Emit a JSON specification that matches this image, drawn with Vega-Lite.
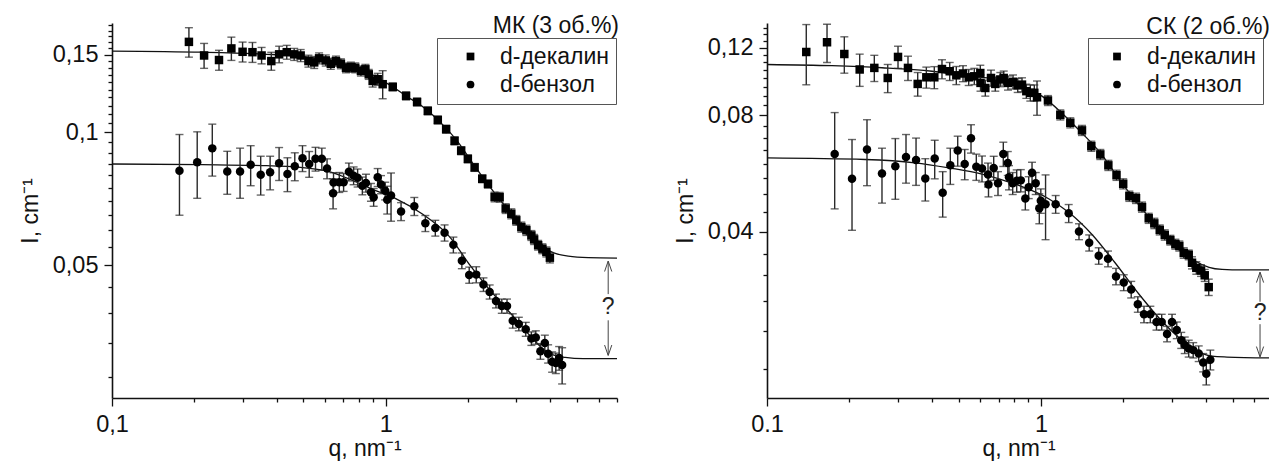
{
  "$schema": "https://vega.github.io/schema/vega-lite/v6.json",
  "padding": {"left": 19, "top": 13, "right": 0, "bottom": 0},
  "bounds": "flush",
  "spacing": 150,
  "config": {
    "view": {"stroke": null},
    "font": "Liberation Sans",
    "axis": {"domainColor": "#111", "domainWidth": 1.6, "tickColor": "#111", "tickWidth": 1.3, "labelColor": "#111", "titleColor": "#111", "labelFont": "Liberation Sans", "titleFont": "Liberation Sans", "labelFontSize": 23.5, "titleFontSize": 23, "titleFontWeight": "normal", "grid": false, "labelOverlap": false, "labelFlush": false, "labelBound": false}
  },
  "resolve": {"scale": {"shape": "independent"}, "legend": {"shape": "independent"}},
  "datasets": {
    "L_pts": [
      {"series": "d-декалин", "q": 0.191, "I": 0.1604, "err": 0.0123},
      {"series": "d-декалин", "q": 0.217, "I": 0.1494, "err": 0.0097},
      {"series": "d-декалин", "q": 0.246, "I": 0.1459, "err": 0.0076},
      {"series": "d-декалин", "q": 0.273, "I": 0.155, "err": 0.0094},
      {"series": "d-декалин", "q": 0.3, "I": 0.1523, "err": 0.0079},
      {"series": "d-декалин", "q": 0.326, "I": 0.152, "err": 0.0079},
      {"series": "d-декалин", "q": 0.352, "I": 0.1494, "err": 0.0064},
      {"series": "d-декалин", "q": 0.382, "I": 0.1451, "err": 0.0068},
      {"series": "d-декалин", "q": 0.408, "I": 0.1503, "err": 0.0065},
      {"series": "d-декалин", "q": 0.435, "I": 0.152, "err": 0.0055},
      {"series": "d-декалин", "q": 0.463, "I": 0.1503, "err": 0.0047},
      {"series": "d-декалин", "q": 0.489, "I": 0.1494, "err": 0.0047},
      {"series": "d-декалин", "q": 0.522, "I": 0.1451, "err": 0.0045},
      {"series": "d-декалин", "q": 0.548, "I": 0.1441, "err": 0.0045},
      {"series": "d-декалин", "q": 0.571, "I": 0.1472, "err": 0.0042},
      {"series": "d-декалин", "q": 0.604, "I": 0.1456, "err": 0.0042},
      {"series": "d-декалин", "q": 0.63, "I": 0.1431, "err": 0.0041},
      {"series": "d-декалин", "q": 0.658, "I": 0.1451, "err": 0.0038},
      {"series": "d-декалин", "q": 0.686, "I": 0.1431, "err": 0.0037},
      {"series": "d-декалин", "q": 0.716, "I": 0.1401, "err": 0.0036},
      {"series": "d-декалин", "q": 0.746, "I": 0.1406, "err": 0.0037},
      {"series": "d-декалин", "q": 0.774, "I": 0.1401, "err": 0.0036},
      {"series": "d-декалин", "q": 0.812, "I": 0.1378, "err": 0.0036},
      {"series": "d-декалин", "q": 0.843, "I": 0.139, "err": 0.0036},
      {"series": "d-декалин", "q": 0.867, "I": 0.1354, "err": 0.0035},
      {"series": "d-декалин", "q": 0.896, "I": 0.1308, "err": 0.0041},
      {"series": "d-декалин", "q": 0.935, "I": 0.132, "err": 0.0041},
      {"series": "d-декалин", "q": 0.975, "I": 0.1286, "err": 0.0094},
      {"series": "d-декалин", "q": 1.061, "I": 0.1268, "err": 0.0026},
      {"series": "d-декалин", "q": 1.187, "I": 0.121, "err": 0.0025},
      {"series": "d-декалин", "q": 1.302, "I": 0.1172, "err": 0.0024},
      {"series": "d-декалин", "q": 1.425, "I": 0.1119, "err": 0.0023},
      {"series": "d-декалин", "q": 1.55, "I": 0.1067, "err": 0.0022},
      {"series": "d-декалин", "q": 1.663, "I": 0.1017, "err": 0.0021},
      {"series": "d-декалин", "q": 1.785, "I": 0.0957, "err": 0.002},
      {"series": "d-декалин", "q": 1.887, "I": 0.0909, "err": 0.0019},
      {"series": "d-декалин", "q": 1.996, "I": 0.0871, "err": 0.0018},
      {"series": "d-декалин", "q": 2.113, "I": 0.0833, "err": 0.0017},
      {"series": "d-декалин", "q": 2.253, "I": 0.0785, "err": 0.0016},
      {"series": "d-декалин", "q": 2.364, "I": 0.0764, "err": 0.0016},
      {"series": "d-декалин", "q": 2.5, "I": 0.0714, "err": 0.0018},
      {"series": "d-декалин", "q": 2.608, "I": 0.0713, "err": 0.0018},
      {"series": "d-декалин", "q": 2.744, "I": 0.0672, "err": 0.0017},
      {"series": "d-декалин", "q": 2.877, "I": 0.0654, "err": 0.0017},
      {"series": "d-декалин", "q": 3.0, "I": 0.0632, "err": 0.0016},
      {"series": "d-декалин", "q": 3.13, "I": 0.061, "err": 0.0016},
      {"series": "d-декалин", "q": 3.266, "I": 0.06, "err": 0.0016},
      {"series": "d-декалин", "q": 3.406, "I": 0.0584, "err": 0.0015},
      {"series": "d-декалин", "q": 3.486, "I": 0.0572, "err": 0.0015},
      {"series": "d-декалин", "q": 3.606, "I": 0.0555, "err": 0.0014},
      {"series": "d-декалин", "q": 3.737, "I": 0.0545, "err": 0.0014},
      {"series": "d-декалин", "q": 3.864, "I": 0.0536, "err": 0.0014},
      {"series": "d-декалин", "q": 3.98, "I": 0.052, "err": 0.0014},
      {"series": "d-бензол", "q": 0.1764, "I": 0.0819, "err": 0.017},
      {"series": "d-бензол", "q": 0.2048, "I": 0.0856, "err": 0.0147},
      {"series": "d-бензол", "q": 0.2325, "I": 0.092, "err": 0.0124},
      {"series": "d-бензол", "q": 0.2637, "I": 0.0815, "err": 0.0091},
      {"series": "d-бензол", "q": 0.2937, "I": 0.0815, "err": 0.0106},
      {"series": "d-бензол", "q": 0.3211, "I": 0.0845, "err": 0.0088},
      {"series": "d-бензол", "q": 0.3494, "I": 0.0802, "err": 0.0081},
      {"series": "d-бензол", "q": 0.3782, "I": 0.0812, "err": 0.0071},
      {"series": "d-бензол", "q": 0.4079, "I": 0.0851, "err": 0.0073},
      {"series": "d-бензол", "q": 0.4375, "I": 0.0805, "err": 0.0071},
      {"series": "d-бензол", "q": 0.4654, "I": 0.0838, "err": 0.0061},
      {"series": "d-бензол", "q": 0.4966, "I": 0.0874, "err": 0.0059},
      {"series": "d-бензол", "q": 0.5254, "I": 0.0848, "err": 0.0057},
      {"series": "d-бензол", "q": 0.5541, "I": 0.0871, "err": 0.0054},
      {"series": "d-бензол", "q": 0.5843, "I": 0.0871, "err": 0.005},
      {"series": "d-бензол", "q": 0.6105, "I": 0.0828, "err": 0.0043},
      {"series": "d-бензол", "q": 0.6448, "I": 0.077, "err": 0.004},
      {"series": "d-бензол", "q": 0.6423, "I": 0.0728, "err": 0.0057},
      {"series": "d-бензол", "q": 0.6767, "I": 0.0771, "err": 0.004},
      {"series": "d-бензол", "q": 0.7018, "I": 0.0771, "err": 0.0036},
      {"series": "d-бензол", "q": 0.7338, "I": 0.0814, "err": 0.0038},
      {"series": "d-бензол", "q": 0.7634, "I": 0.0798, "err": 0.0037},
      {"series": "d-бензол", "q": 0.7896, "I": 0.0789, "err": 0.0037},
      {"series": "d-бензол", "q": 0.8216, "I": 0.0757, "err": 0.0035},
      {"series": "d-бензол", "q": 0.847, "I": 0.0768, "err": 0.0036},
      {"series": "d-бензол", "q": 0.8835, "I": 0.0732, "err": 0.0034},
      {"series": "d-бензол", "q": 0.9036, "I": 0.0713, "err": 0.0033},
      {"series": "d-бензол", "q": 0.9348, "I": 0.0791, "err": 0.0037},
      {"series": "d-бензол", "q": 0.9612, "I": 0.0762, "err": 0.0036},
      {"series": "d-бензол", "q": 0.9958, "I": 0.0737, "err": 0.0034},
      {"series": "d-бензол", "q": 1.013, "I": 0.0704, "err": 0.0051},
      {"series": "d-бензол", "q": 1.046, "I": 0.0719, "err": 0.009},
      {"series": "d-бензол", "q": 1.138, "I": 0.0662, "err": 0.0031},
      {"series": "d-бензол", "q": 1.272, "I": 0.068, "err": 0.0032},
      {"series": "d-бензол", "q": 1.396, "I": 0.0622, "err": 0.0026},
      {"series": "d-бензол", "q": 1.518, "I": 0.0607, "err": 0.0025},
      {"series": "d-бензол", "q": 1.641, "I": 0.0592, "err": 0.0025},
      {"series": "d-бензол", "q": 1.767, "I": 0.0556, "err": 0.0023},
      {"series": "d-бензол", "q": 1.898, "I": 0.0512, "err": 0.0021},
      {"series": "d-бензол", "q": 2.019, "I": 0.0475, "err": 0.002},
      {"series": "d-бензол", "q": 2.142, "I": 0.0476, "err": 0.002},
      {"series": "d-бензол", "q": 2.276, "I": 0.0452, "err": 0.0016},
      {"series": "d-бензол", "q": 2.398, "I": 0.0435, "err": 0.0016},
      {"series": "d-бензол", "q": 2.529, "I": 0.0415, "err": 0.0015},
      {"series": "d-бензол", "q": 2.656, "I": 0.0404, "err": 0.0015},
      {"series": "d-бензол", "q": 2.775, "I": 0.0404, "err": 0.0015},
      {"series": "d-бензол", "q": 2.912, "I": 0.0374, "err": 0.0014},
      {"series": "d-бензол", "q": 3.065, "I": 0.0368, "err": 0.0013},
      {"series": "d-бензол", "q": 3.249, "I": 0.0358, "err": 0.0013},
      {"series": "d-бензол", "q": 3.406, "I": 0.0341, "err": 0.0012},
      {"series": "d-бензол", "q": 3.535, "I": 0.0343, "err": 0.0012},
      {"series": "d-бензол", "q": 3.675, "I": 0.0319, "err": 0.0013},
      {"series": "d-бензол", "q": 3.814, "I": 0.0333, "err": 0.0014},
      {"series": "d-бензол", "q": 3.921, "I": 0.0315, "err": 0.0015},
      {"series": "d-бензол", "q": 4.056, "I": 0.0302, "err": 0.0016},
      {"series": "d-бензол", "q": 4.184, "I": 0.03, "err": 0.0016},
      {"series": "d-бензол", "q": 4.302, "I": 0.0308, "err": 0.0019},
      {"series": "d-бензол", "q": 4.412, "I": 0.0297, "err": 0.0028}
    ],
    "L_fit": [
      {"c": "u", "q": 0.1, "I": 0.1529}, {"c": "u", "q": 0.2136, "I": 0.152}, {"c": "u", "q": 0.3544, "I": 0.1505},
      {"c": "u", "q": 0.4966, "I": 0.1486}, {"c": "u", "q": 0.6395, "I": 0.1451}, {"c": "u", "q": 0.7896, "I": 0.1399},
      {"c": "u", "q": 0.9348, "I": 0.1329}, {"c": "u", "q": 1.061, "I": 0.1268}, {"c": "u", "q": 1.204, "I": 0.1203},
      {"c": "u", "q": 1.366, "I": 0.1143}, {"c": "u", "q": 1.618, "I": 0.104}, {"c": "u", "q": 1.835, "I": 0.0952},
      {"c": "u", "q": 2.083, "I": 0.085}, {"c": "u", "q": 2.364, "I": 0.0762}, {"c": "u", "q": 2.683, "I": 0.069},
      {"c": "u", "q": 3.045, "I": 0.0629}, {"c": "u", "q": 3.456, "I": 0.0575}, {"c": "u", "q": 3.759, "I": 0.0549},
      {"c": "u", "q": 4.09, "I": 0.0534}, {"c": "u", "q": 4.642, "I": 0.0524}, {"c": "u", "q": 5.495, "I": 0.052},
      {"c": "u", "q": 7, "I": 0.0519},
      {"c": "l", "q": 0.1, "I": 0.0848}, {"c": "l", "q": 0.2136, "I": 0.0845}, {"c": "l", "q": 0.3544, "I": 0.0841},
      {"c": "l", "q": 0.4966, "I": 0.0832}, {"c": "l", "q": 0.6395, "I": 0.0811}, {"c": "l", "q": 0.757, "I": 0.0778},
      {"c": "l", "q": 0.9192, "I": 0.0738}, {"c": "l", "q": 1.088, "I": 0.0708}, {"c": "l", "q": 1.366, "I": 0.0652},
      {"c": "l", "q": 1.716, "I": 0.0579}, {"c": "l", "q": 2.031, "I": 0.05}, {"c": "l", "q": 2.404, "I": 0.0439},
      {"c": "l", "q": 2.847, "I": 0.039}, {"c": "l", "q": 3.369, "I": 0.0346}, {"c": "l", "q": 3.759, "I": 0.0323},
      {"c": "l", "q": 4.09, "I": 0.0313}, {"c": "l", "q": 4.526, "I": 0.0309}, {"c": "l", "q": 5.268, "I": 0.0307},
      {"c": "l", "q": 7, "I": 0.0307}
    ],
    "L_ann": [
      {"k": "seg", "q": 6.5, "I": 0.051, "I2": 0.043},
      {"k": "seg", "q": 6.5, "I": 0.0375, "I2": 0.0313},
      {"k": "up", "q": 6.5, "I": 0.0511},
      {"k": "dn", "q": 6.5, "I": 0.0312},
      {"k": "txt", "q": 6.5, "I": 0.0402, "label": "?"},
      {"k": "head", "q": 7, "I": 0.1681, "label": "МК (3 об.%)"}
    ],
    "R_pts": [
      {"series": "d-декалин", "q": 0.1391, "I": 0.1169, "err": 0.0208},
      {"series": "d-декалин", "q": 0.1656, "I": 0.1239, "err": 0.0141},
      {"series": "d-декалин", "q": 0.1915, "I": 0.1155, "err": 0.0125},
      {"series": "d-декалин", "q": 0.2179, "I": 0.1053, "err": 0.0101},
      {"series": "d-декалин", "q": 0.2464, "I": 0.1063, "err": 0.0083},
      {"series": "d-декалин", "q": 0.2758, "I": 0.1001, "err": 0.0084},
      {"series": "d-декалин", "q": 0.3007, "I": 0.1135, "err": 0.0075},
      {"series": "d-декалин", "q": 0.327, "I": 0.1063, "err": 0.0077},
      {"series": "d-декалин", "q": 0.3548, "I": 0.0966, "err": 0.0068},
      {"series": "d-декалин", "q": 0.3815, "I": 0.1005, "err": 0.0063},
      {"series": "d-декалин", "q": 0.4079, "I": 0.1005, "err": 0.0066},
      {"series": "d-декалин", "q": 0.4351, "I": 0.1056, "err": 0.006},
      {"series": "d-декалин", "q": 0.4643, "I": 0.1042, "err": 0.0056},
      {"series": "d-декалин", "q": 0.4908, "I": 0.1017, "err": 0.0055},
      {"series": "d-декалин", "q": 0.5192, "I": 0.1028, "err": 0.0049},
      {"series": "d-декалин", "q": 0.5447, "I": 0.1005, "err": 0.0048},
      {"series": "d-декалин", "q": 0.5709, "I": 0.1011, "err": 0.0049},
      {"series": "d-декалин", "q": 0.6004, "I": 0.1031, "err": 0.0049},
      {"series": "d-декалин", "q": 0.6015, "I": 0.0972, "err": 0.0047},
      {"series": "d-декалин", "q": 0.6262, "I": 0.0943, "err": 0.0045},
      {"series": "d-декалин", "q": 0.6569, "I": 0.1001, "err": 0.0048},
      {"series": "d-декалин", "q": 0.681, "I": 0.0966, "err": 0.0041},
      {"series": "d-декалин", "q": 0.7103, "I": 0.0992, "err": 0.0042},
      {"series": "d-декалин", "q": 0.7309, "I": 0.1001, "err": 0.0042},
      {"series": "d-декалин", "q": 0.7578, "I": 0.0972, "err": 0.0041},
      {"series": "d-декалин", "q": 0.7903, "I": 0.0978, "err": 0.0041},
      {"series": "d-декалин", "q": 0.8222, "I": 0.0958, "err": 0.004},
      {"series": "d-декалин", "q": 0.8524, "I": 0.0962, "err": 0.004},
      {"series": "d-декалин", "q": 0.8839, "I": 0.0925, "err": 0.0039},
      {"series": "d-декалин", "q": 0.9141, "I": 0.0916, "err": 0.0044},
      {"series": "d-декалин", "q": 0.9452, "I": 0.0916, "err": 0.0044},
      {"series": "d-декалин", "q": 0.967, "I": 0.0892, "err": 0.0091},
      {"series": "d-декалин", "q": 1.06, "I": 0.0875, "err": 0.0026},
      {"series": "d-декалин", "q": 1.176, "I": 0.0803, "err": 0.0024},
      {"series": "d-декалин", "q": 1.279, "I": 0.0766, "err": 0.0023},
      {"series": "d-декалин", "q": 1.411, "I": 0.0732, "err": 0.0022},
      {"series": "d-декалин", "q": 1.526, "I": 0.0666, "err": 0.002},
      {"series": "d-декалин", "q": 1.646, "I": 0.0634, "err": 0.0019},
      {"series": "d-декалин", "q": 1.761, "I": 0.0594, "err": 0.0018},
      {"series": "d-декалин", "q": 1.886, "I": 0.056, "err": 0.0017},
      {"series": "d-декалин", "q": 1.995, "I": 0.0532, "err": 0.0016},
      {"series": "d-декалин", "q": 2.101, "I": 0.0494, "err": 0.0015},
      {"series": "d-декалин", "q": 2.222, "I": 0.0488, "err": 0.0015},
      {"series": "d-декалин", "q": 2.337, "I": 0.0463, "err": 0.0014},
      {"series": "d-декалин", "q": 2.472, "I": 0.0433, "err": 0.0013},
      {"series": "d-декалин", "q": 2.591, "I": 0.042, "err": 0.0013},
      {"series": "d-декалин", "q": 2.712, "I": 0.0404, "err": 0.0012},
      {"series": "d-декалин", "q": 2.829, "I": 0.0392, "err": 0.0012},
      {"series": "d-декалин", "q": 2.965, "I": 0.038, "err": 0.0011},
      {"series": "d-декалин", "q": 3.092, "I": 0.0371, "err": 0.0011},
      {"series": "d-декалин", "q": 3.197, "I": 0.0367, "err": 0.0011},
      {"series": "d-декалин", "q": 3.318, "I": 0.0352, "err": 0.0011},
      {"series": "d-декалин", "q": 3.46, "I": 0.0348, "err": 0.001},
      {"series": "d-декалин", "q": 3.557, "I": 0.0332, "err": 0.0012},
      {"series": "d-декалин", "q": 3.688, "I": 0.0322, "err": 0.0012},
      {"series": "d-декалин", "q": 3.837, "I": 0.0317, "err": 0.0011},
      {"series": "d-декалин", "q": 3.958, "I": 0.0308, "err": 0.0011},
      {"series": "d-декалин", "q": 4.093, "I": 0.0287, "err": 0.0014},
      {"series": "d-бензол", "q": 0.1766, "I": 0.0636, "err": 0.0178},
      {"series": "d-бензол", "q": 0.2043, "I": 0.0548, "err": 0.0145},
      {"series": "d-бензол", "q": 0.2317, "I": 0.0653, "err": 0.0127},
      {"series": "d-бензол", "q": 0.2628, "I": 0.0566, "err": 0.0092},
      {"series": "d-бензол", "q": 0.294, "I": 0.0591, "err": 0.0106},
      {"series": "d-бензол", "q": 0.3216, "I": 0.0624, "err": 0.009},
      {"series": "d-бензол", "q": 0.3499, "I": 0.0613, "err": 0.0086},
      {"series": "d-бензол", "q": 0.3782, "I": 0.0549, "err": 0.0069},
      {"series": "d-бензол", "q": 0.4093, "I": 0.0619, "err": 0.0071},
      {"series": "d-бензол", "q": 0.4377, "I": 0.0504, "err": 0.0068},
      {"series": "d-бензол", "q": 0.4667, "I": 0.0594, "err": 0.0064},
      {"series": "d-бензол", "q": 0.4966, "I": 0.0649, "err": 0.0058},
      {"series": "d-бензол", "q": 0.5267, "I": 0.0599, "err": 0.0054},
      {"series": "d-бензол", "q": 0.5553, "I": 0.0698, "err": 0.0059},
      {"series": "d-бензол", "q": 0.5806, "I": 0.0589, "err": 0.0046},
      {"series": "d-бензол", "q": 0.6091, "I": 0.0583, "err": 0.0045},
      {"series": "d-бензол", "q": 0.6406, "I": 0.0562, "err": 0.004},
      {"series": "d-бензол", "q": 0.6432, "I": 0.053, "err": 0.0038},
      {"series": "d-бензол", "q": 0.672, "I": 0.0585, "err": 0.0042},
      {"series": "d-бензол", "q": 0.6967, "I": 0.0534, "err": 0.0038},
      {"series": "d-бензол", "q": 0.7284, "I": 0.0636, "err": 0.0046},
      {"series": "d-бензол", "q": 0.7564, "I": 0.0602, "err": 0.0043},
      {"series": "d-бензол", "q": 0.7641, "I": 0.0553, "err": 0.004},
      {"series": "d-бензол", "q": 0.7882, "I": 0.0534, "err": 0.0035},
      {"series": "d-бензол", "q": 0.8152, "I": 0.0542, "err": 0.0036},
      {"series": "d-бензол", "q": 0.8438, "I": 0.0543, "err": 0.0036},
      {"series": "d-бензол", "q": 0.8765, "I": 0.0487, "err": 0.0032},
      {"series": "d-бензол", "q": 0.9018, "I": 0.0521, "err": 0.0034},
      {"series": "d-бензол", "q": 0.9273, "I": 0.0568, "err": 0.0037},
      {"series": "d-бензол", "q": 0.9565, "I": 0.0534, "err": 0.0035},
      {"series": "d-бензол", "q": 0.9858, "I": 0.046, "err": 0.0041},
      {"series": "d-бензол", "q": 0.9984, "I": 0.0481, "err": 0.0035},
      {"series": "d-бензол", "q": 1.039, "I": 0.0471, "err": 0.009},
      {"series": "d-бензол", "q": 1.131, "I": 0.0471, "err": 0.0025},
      {"series": "d-бензол", "q": 1.262, "I": 0.0446, "err": 0.0024},
      {"series": "d-бензол", "q": 1.376, "I": 0.04, "err": 0.0019},
      {"series": "d-бензол", "q": 1.499, "I": 0.0374, "err": 0.0018},
      {"series": "d-бензол", "q": 1.624, "I": 0.0346, "err": 0.0017},
      {"series": "d-бензол", "q": 1.756, "I": 0.034, "err": 0.0016},
      {"series": "d-бензол", "q": 1.878, "I": 0.0306, "err": 0.0015},
      {"series": "d-бензол", "q": 2.004, "I": 0.0295, "err": 0.0014},
      {"series": "d-бензол", "q": 2.134, "I": 0.0283, "err": 0.0014},
      {"series": "d-бензол", "q": 2.256, "I": 0.0259, "err": 0.0012},
      {"series": "d-бензол", "q": 2.376, "I": 0.0244, "err": 0.0012},
      {"series": "d-бензол", "q": 2.506, "I": 0.0244, "err": 0.0012},
      {"series": "d-бензол", "q": 2.639, "I": 0.0233, "err": 0.0011},
      {"series": "d-бензол", "q": 2.757, "I": 0.0233, "err": 0.0011},
      {"series": "d-бензол", "q": 2.884, "I": 0.0217, "err": 0.001},
      {"series": "d-бензол", "q": 3.007, "I": 0.0233, "err": 0.0011},
      {"series": "d-бензол", "q": 3.129, "I": 0.0222, "err": 0.0011},
      {"series": "d-бензол", "q": 3.249, "I": 0.0209, "err": 0.001},
      {"series": "d-бензол", "q": 3.346, "I": 0.0203, "err": 0.001},
      {"series": "d-бензол", "q": 3.46, "I": 0.0199, "err": 0.001},
      {"series": "d-бензол", "q": 3.593, "I": 0.0197, "err": 0.0009},
      {"series": "d-бензол", "q": 3.763, "I": 0.0193, "err": 0.0009},
      {"series": "d-бензол", "q": 3.908, "I": 0.0183, "err": 0.001},
      {"series": "d-бензол", "q": 4.011, "I": 0.0171, "err": 0.0011},
      {"series": "d-бензол", "q": 4.149, "I": 0.0186, "err": 0.0011}
    ],
    "R_fit": [
      {"c": "u", "q": 0.1, "I": 0.1085}, {"c": "u", "q": 0.1727, "I": 0.1077}, {"c": "u", "q": 0.2628, "I": 0.1064},
      {"c": "u", "q": 0.4, "I": 0.1042}, {"c": "u", "q": 0.5461, "I": 0.1011}, {"c": "u", "q": 0.7205, "I": 0.0988},
      {"c": "u", "q": 0.8524, "I": 0.0953}, {"c": "u", "q": 1.008, "I": 0.0898}, {"c": "u", "q": 1.193, "I": 0.0811},
      {"c": "u", "q": 1.411, "I": 0.072}, {"c": "u", "q": 1.628, "I": 0.0646}, {"c": "u", "q": 1.975, "I": 0.0534},
      {"c": "u", "q": 2.478, "I": 0.0436}, {"c": "u", "q": 3.084, "I": 0.0376}, {"c": "u", "q": 3.648, "I": 0.0336},
      {"c": "u", "q": 4.104, "I": 0.0323}, {"c": "u", "q": 4.578, "I": 0.0319}, {"c": "u", "q": 5.415, "I": 0.0318},
      {"c": "u", "q": 6.85, "I": 0.0318},
      {"c": "l", "q": 0.1, "I": 0.0621}, {"c": "l", "q": 0.2279, "I": 0.0615}, {"c": "l", "q": 0.3468, "I": 0.0603},
      {"c": "l", "q": 0.4615, "I": 0.0585}, {"c": "l", "q": 0.6091, "I": 0.0564}, {"c": "l", "q": 0.804, "I": 0.0531},
      {"c": "l", "q": 1.07, "I": 0.0486}, {"c": "l", "q": 1.265, "I": 0.0448}, {"c": "l", "q": 1.535, "I": 0.0393},
      {"c": "l", "q": 1.863, "I": 0.0332}, {"c": "l", "q": 2.279, "I": 0.0275}, {"c": "l", "q": 2.765, "I": 0.0234},
      {"c": "l", "q": 3.27, "I": 0.0209}, {"c": "l", "q": 3.773, "I": 0.0195}, {"c": "l", "q": 4.209, "I": 0.019},
      {"c": "l", "q": 4.773, "I": 0.0189}, {"c": "l", "q": 6.85, "I": 0.0188}
    ],
    "R_ann": [
      {"k": "seg", "q": 6.3, "I": 0.0313, "I2": 0.0263},
      {"k": "seg", "q": 6.3, "I": 0.023, "I2": 0.019},
      {"k": "up", "q": 6.3, "I": 0.0314},
      {"k": "dn", "q": 6.3, "I": 0.0189},
      {"k": "txt", "q": 6.3, "I": 0.0246, "label": "?"},
      {"k": "head", "q": 6.85, "I": 0.1301, "label": "СК (2 об.%)"}
    ]
  },
  "hconcat": [
    {
      "width": 505,
      "height": 375,
      "encoding": {
        "x": {"field": "q", "type": "quantitative", "title": "q, nm⁻¹",
          "scale": {"type": "log", "domain": [0.1, 7], "nice": false},
          "axis": {"values": [0.1, 0.2, 0.3, 0.4, 0.5, 0.6, 0.7, 0.8, 0.9, 1, 2, 3, 4, 5, 6, 7],
            "labelExpr": "datum.value == 0.1 ? '0,1' : datum.value == 1 ? '1' : ''",
            "tickSize": {"condition": {"test": "datum.value == 0.1 || datum.value == 1", "value": 8}, "value": 4},
            "labelPadding": 6, "titlePadding": 2}},
        "y": {"field": "I", "type": "quantitative", "title": "I, cm⁻¹",
          "scale": {"type": "log", "domain": [0.025, 0.177], "nice": false},
          "axis": {"values": [0.0279, 0.0333, 0.039, 0.0446, 0.05, 0.055, 0.06, 0.065, 0.07, 0.075, 0.08, 0.085, 0.09, 0.095, 0.1, 0.105, 0.11, 0.115, 0.12, 0.125, 0.13, 0.135, 0.14, 0.145, 0.15, 0.155, 0.16, 0.165, 0.17, 0.175],
            "labelExpr": "datum.value == 0.05 ? '0,05' : datum.value == 0.1 ? '0,1' : datum.value == 0.15 ? '0,15' : ''",
            "tickSize": {"condition": {"test": "datum.value == 0.05 || datum.value == 0.1 || datum.value == 0.15", "value": 8}, "value": 4},
            "labelPadding": 6, "titlePadding": 10}}
      },
      "layer": [
        {"data": {"name": "L_fit"}, "mark": {"type": "line", "color": "#111", "strokeWidth": 1.3, "interpolate": "monotone", "clip": true},
          "encoding": {"detail": {"field": "c", "type": "nominal"}}},
        {"data": {"name": "L_pts"}, "mark": {"type": "errorbar", "ticks": {"size": 8}, "color": "#2a2a2a", "thickness": 1.4},
          "encoding": {"yError": {"field": "err"}}},
        {"data": {"name": "L_pts"}, "mark": {"type": "point", "filled": true, "opacity": 1, "size": 72, "color": "#000"},
          "encoding": {"shape": {"field": "series", "type": "nominal",
            "scale": {"domain": ["d-декалин", "d-бензол"], "range": ["square", "circle"]},
            "legend": {"orient": "none", "legendX": 325, "legendY": 15, "title": null, "strokeColor": "#555", "padding": 7,
              "symbolOffset": 15, "labelOffset": 18, "labelFontSize": 23, "labelFont": "Liberation Sans", "labelColor": "#111",
              "symbolSize": 60, "symbolFillColor": "#000", "symbolStrokeWidth": 0, "rowPadding": 4, "labelLimit": 300}}}},
        {"data": {"name": "L_ann"}, "transform": [{"filter": "datum.k == 'seg'"}], "mark": {"type": "rule", "color": "#444", "strokeWidth": 1},
          "encoding": {"y2": {"field": "I2"}}},
        {"data": {"name": "L_ann"}, "transform": [{"filter": "datum.k == 'up'"}],
          "mark": {"type": "point", "shape": "M-1.2,3.5L0,0L1.2,3.5", "size": 36, "filled": false, "color": "#444", "strokeWidth": 1, "opacity": 1}},
        {"data": {"name": "L_ann"}, "transform": [{"filter": "datum.k == 'dn'"}],
          "mark": {"type": "point", "shape": "M-1.2,-3.5L0,0L1.2,-3.5", "size": 36, "filled": false, "color": "#444", "strokeWidth": 1, "opacity": 1}},
        {"data": {"name": "L_ann"}, "transform": [{"filter": "datum.k == 'txt'"}],
          "mark": {"type": "text", "fontSize": 23, "align": "center", "baseline": "middle", "color": "#222"},
          "encoding": {"text": {"field": "label"}}},
        {"data": {"name": "L_ann"}, "transform": [{"filter": "datum.k == 'head'"}],
          "mark": {"type": "text", "fontSize": 23, "align": "right", "baseline": "alphabetic", "dx": 2, "color": "#111"},
          "encoding": {"text": {"field": "label"}}}
      ]
    },
    {
      "width": 503,
      "height": 375,
      "encoding": {
        "x": {"field": "q", "type": "quantitative", "title": "q, nm⁻¹",
          "scale": {"type": "log", "domain": [0.1, 6.85], "nice": false},
          "axis": {"values": [0.1, 0.2, 0.3, 0.4, 0.5, 0.6, 0.7, 0.8, 0.9, 1, 2, 3, 4, 5, 6],
            "labelExpr": "datum.value == 0.1 ? '0.1' : datum.value == 1 ? '1' : ''",
            "tickSize": {"condition": {"test": "datum.value == 0.1 || datum.value == 1", "value": 8}, "value": 4},
            "labelPadding": 6, "titlePadding": 2}},
        "y": {"field": "I", "type": "quantitative", "title": "I, cm⁻¹",
          "scale": {"type": "log", "domain": [0.0148, 0.139], "nice": false},
          "axis": {"values": [0.0176, 0.0221, 0.0264, 0.0308, 0.035, 0.04, 0.045, 0.05, 0.055, 0.06, 0.065, 0.07, 0.075, 0.08, 0.085, 0.09, 0.095, 0.1, 0.105, 0.11, 0.115, 0.12, 0.125, 0.13, 0.135],
            "labelExpr": "datum.value == 0.04 ? '0,04' : datum.value == 0.08 ? '0,08' : datum.value == 0.12 ? '0,12' : ''",
            "tickSize": {"condition": {"test": "datum.value == 0.04 || datum.value == 0.08 || datum.value == 0.12", "value": 8}, "value": 4},
            "labelPadding": 6, "titlePadding": 10}}
      },
      "layer": [
        {"data": {"name": "R_fit"}, "mark": {"type": "line", "color": "#111", "strokeWidth": 1.3, "interpolate": "monotone", "clip": true},
          "encoding": {"detail": {"field": "c", "type": "nominal"}}},
        {"data": {"name": "R_pts"}, "mark": {"type": "errorbar", "ticks": {"size": 8}, "color": "#2a2a2a", "thickness": 1.4},
          "encoding": {"yError": {"field": "err"}}},
        {"data": {"name": "R_pts"}, "mark": {"type": "point", "filled": true, "opacity": 1, "size": 72, "color": "#000"},
          "encoding": {"shape": {"field": "series", "type": "nominal",
            "scale": {"domain": ["d-декалин", "d-бензол"], "range": ["square", "circle"]},
            "legend": {"orient": "none", "legendX": 321, "legendY": 15, "title": null, "strokeColor": "#555", "padding": 7,
              "symbolOffset": 10.5, "labelOffset": 18.5, "labelFontSize": 23, "labelFont": "Liberation Sans", "labelColor": "#111",
              "symbolSize": 60, "symbolFillColor": "#000", "symbolStrokeWidth": 0, "rowPadding": 4, "labelLimit": 300}}}},
        {"data": {"name": "R_ann"}, "transform": [{"filter": "datum.k == 'seg'"}], "mark": {"type": "rule", "color": "#444", "strokeWidth": 1},
          "encoding": {"y2": {"field": "I2"}}},
        {"data": {"name": "R_ann"}, "transform": [{"filter": "datum.k == 'up'"}],
          "mark": {"type": "point", "shape": "M-1.2,3.5L0,0L1.2,3.5", "size": 36, "filled": false, "color": "#444", "strokeWidth": 1, "opacity": 1}},
        {"data": {"name": "R_ann"}, "transform": [{"filter": "datum.k == 'dn'"}],
          "mark": {"type": "point", "shape": "M-1.2,-3.5L0,0L1.2,-3.5", "size": 36, "filled": false, "color": "#444", "strokeWidth": 1, "opacity": 1}},
        {"data": {"name": "R_ann"}, "transform": [{"filter": "datum.k == 'txt'"}],
          "mark": {"type": "text", "fontSize": 23, "align": "center", "baseline": "middle", "color": "#222"},
          "encoding": {"text": {"field": "label"}}},
        {"data": {"name": "R_ann"}, "transform": [{"filter": "datum.k == 'head'"}],
          "mark": {"type": "text", "fontSize": 23, "align": "right", "baseline": "alphabetic", "color": "#111"},
          "encoding": {"text": {"field": "label"}}}
      ]
    }
  ]
}
